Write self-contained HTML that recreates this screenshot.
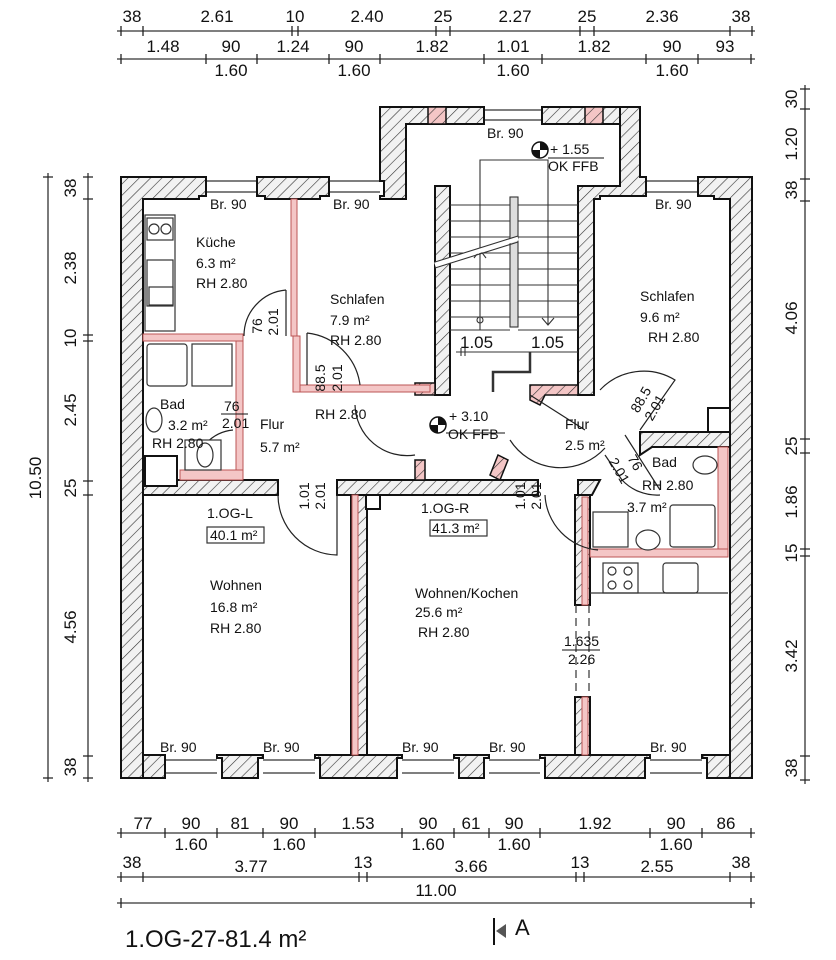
<!DOCTYPE html>
<html><head><meta charset="utf-8"><style>
html,body{margin:0;padding:0;background:#fff}
svg{display:block}
text{font-family:"Liberation Sans",sans-serif;fill:#111}
.d{font-size:17px}
.r{font-size:14px}
</style></head><body>
<svg width="836" height="960" viewBox="0 0 836 960" xmlns="http://www.w3.org/2000/svg">
<defs>
<pattern id="h" patternUnits="userSpaceOnUse" width="8" height="8" patternTransform="rotate(45)">
<rect width="8" height="8" fill="#f2f2f2"/><line x1="0" y1="0" x2="0" y2="8" stroke="#333" stroke-width="1.2"/></pattern>
<pattern id="p" patternUnits="userSpaceOnUse" width="8" height="8" patternTransform="rotate(45)">
<rect width="8" height="8" fill="#f4c6c6"/><line x1="0" y1="0" x2="0" y2="8" stroke="#333" stroke-width="1.2"/></pattern>
</defs>

<g stroke="#333" stroke-width="1.3" fill="none">
<line x1="117" y1="31" x2="755" y2="31"/>
<line x1="117" y1="59" x2="755" y2="59"/>
<line x1="117" y1="833" x2="755" y2="833"/>
<line x1="117" y1="877" x2="755" y2="877"/>
<line x1="117" y1="903" x2="755" y2="903"/>
<line x1="48" y1="173" x2="48" y2="782"/>
<line x1="88" y1="173" x2="88" y2="782"/>
<line x1="805" y1="85" x2="805" y2="784"/>
</g>
<g stroke="#222" stroke-width="1.3">
<path d="M121 26v10M143 26v10M292 26v10M298 26v10M436 26v10M450 26v10M580 26v10M594 26v10M730 26v10M752 26v10"/>
<path d="M121 54v10M206 54v10M257 54v10M329 54v10M380 54v10M484 54v10M542 54v10M646 54v10M698 54v10M751 54v10"/>
<path d="M121 828v10M165 828v10M217 828v10M263 828v10M315 828v10M402 828v10M454 828v10M489 828v10M540 828v10M650 828v10M702 828v10M751 828v10"/>
<path d="M121 872v10M143 872v10M359 872v10M367 872v10M576 872v10M584 872v10M730 872v10M751 872v10"/>
<path d="M121 898v10M751 898v10"/>
<path d="M43 177h10M43 778h10"/>
<path d="M83 177h10M83 199h10M83 335h10M83 341h10M83 481h10M83 495h10M83 756h10M83 778h10"/>
<path d="M800 89h10M800 109h10M800 179h10M800 201h10M800 439h10M800 453h10M800 549h10M800 556h10M800 756h10M800 780h10"/>
</g>
<g class="d" text-anchor="middle">
<text x="132" y="22">38</text><text x="217" y="22">2.61</text><text x="295" y="22">10</text><text x="367" y="22">2.40</text><text x="443" y="22">25</text><text x="515" y="22">2.27</text><text x="587" y="22">25</text><text x="662" y="22">2.36</text><text x="741" y="22">38</text>
<text x="163" y="52">1.48</text><text x="231" y="52">90</text><text x="231" y="76">1.60</text><text x="293" y="52">1.24</text><text x="354" y="52">90</text><text x="354" y="76">1.60</text><text x="432" y="52">1.82</text><text x="513" y="52">1.01</text><text x="513" y="76">1.60</text><text x="594" y="52">1.82</text><text x="672" y="52">90</text><text x="672" y="76">1.60</text><text x="725" y="52">93</text>
<text x="143" y="829">77</text><text x="191" y="829">90</text><text x="191" y="850">1.60</text><text x="240" y="829">81</text><text x="289" y="829">90</text><text x="289" y="850">1.60</text><text x="358" y="829">1.53</text><text x="428" y="829">90</text><text x="428" y="850">1.60</text><text x="471" y="829">61</text><text x="514" y="829">90</text><text x="514" y="850">1.60</text><text x="595" y="829">1.92</text><text x="676" y="829">90</text><text x="676" y="850">1.60</text><text x="726" y="829">86</text>
<text x="132" y="868">38</text><text x="251" y="872">3.77</text><text x="363" y="868">13</text><text x="471" y="872">3.66</text><text x="580" y="868">13</text><text x="657" y="872">2.55</text><text x="741" y="868">38</text>
<text x="436" y="896">11.00</text>
</g>
<g class="d" text-anchor="middle">
<text transform="translate(41,478) rotate(-90)">10.50</text>
<text transform="translate(76,188) rotate(-90)">38</text>
<text transform="translate(76,268) rotate(-90)">2.38</text>
<text transform="translate(76,338) rotate(-90)">10</text>
<text transform="translate(76,410) rotate(-90)">2.45</text>
<text transform="translate(76,488) rotate(-90)">25</text>
<text transform="translate(76,627) rotate(-90)">4.56</text>
<text transform="translate(76,767) rotate(-90)">38</text>
<text transform="translate(797,99) rotate(-90)">30</text>
<text transform="translate(797,144) rotate(-90)">1.20</text>
<text transform="translate(797,190) rotate(-90)">38</text>
<text transform="translate(797,318) rotate(-90)">4.06</text>
<text transform="translate(797,446) rotate(-90)">25</text>
<text transform="translate(797,502) rotate(-90)">1.86</text>
<text transform="translate(797,553) rotate(-90)">15</text>
<text transform="translate(797,656) rotate(-90)">3.42</text>
<text transform="translate(797,768) rotate(-90)">38</text>
</g>

<g stroke="#333" stroke-width="1.2">
<path d="M206 181h51M206 192h51M329 181h51M329 192h51M484 110h58M484 120h58M646 181h52M646 192h52"/>
<path d="M165 760h52M165 773h52M263 760h52M263 773h52M402 760h52M402 773h52M489 760h51M489 773h51M650 760h52M650 773h52"/>
</g>

<g fill="url(#h)" stroke="#111" stroke-width="2">
<path d="M121 177H206V196H199V199H143V778H121Z"/>
<path d="M257 177H329V196H320V199H265V196H257Z"/>
<path d="M380 107H484V124H406V199H380V196H384V181H380Z"/>
<path d="M542 107H620V124H542Z"/>
<path d="M620 107H640V177H646V196H600V199H594V395H578V186H620V124Z"/>
<path d="M698 177H752V778H730V199H714V196H698Z"/>
<rect x="143" y="755" width="22" height="23"/>
<path d="M217 755H263V758H258V778H222V758H217Z"/>
<path d="M315 755H402V758H397V778H320V758H315Z"/>
<path d="M454 755H489V758H484V778H459V758H454Z"/>
<path d="M540 755H650V758H645V778H545V758H540Z"/>
<path d="M702 755H730V778H707V758H702Z"/>
<path d="M435 186H450V395H435Z"/>
<path d="M143 480H278V495H143Z"/>
<path d="M337 480H538V495H337Z"/>
<path d="M578 480H600L592 495H578Z"/>
<path d="M351 495H367V755H351Z"/>
<path d="M575 495H590V605H575Z"/>
<path d="M575 697H590V755H575Z"/>
<path d="M640 432H730V447H652L640 455Z"/>
</g>
<g fill="url(#p)" stroke="#111" stroke-width="1.5">
<rect x="428" y="107" width="18" height="17"/>
<rect x="585" y="107" width="18" height="17"/>
<rect x="415" y="383" width="20" height="12"/>
<rect x="415" y="460" width="10" height="20"/>
<path d="M530 385H578V395H545L540 405L530 400Z"/>
<path d="M490 475L498 455L508 460L500 480Z"/>
</g>
<g fill="#f4c6c6" stroke="#b55" stroke-width="1">
<rect x="291" y="199" width="6" height="137"/>
<rect x="293" y="336" width="7" height="56"/>
<rect x="300" y="385" width="130" height="7"/>
<rect x="143" y="334" width="100" height="7"/>
<rect x="236" y="341" width="7" height="130"/>
<rect x="180" y="470" width="63" height="10"/>
<rect x="352" y="495" width="6" height="260"/>
<rect x="582" y="497" width="6" height="108"/>
<rect x="582" y="697" width="6" height="58"/>
<rect x="718" y="447" width="10" height="108"/>
<rect x="590" y="549" width="138" height="8"/>
</g>
<g fill="#fff" stroke="#111" stroke-width="2">
<rect x="145" y="456" width="32" height="30"/>
<rect x="708" y="408" width="22" height="24"/>
<rect x="366" y="495" width="14" height="14"/>
</g>
<g stroke="#333" stroke-width="1.2" stroke-dasharray="8 5">
<path d="M576 605V697M589 605V697"/>
</g>

<g stroke="#333" stroke-width="1.1" fill="none">
<path d="M450 205H578M450 221H578M450 237H578M450 253H578M450 269H578M450 285H578M450 301H578M450 317H578M450 330H510M518 330H578"/>
<rect x="510" y="197" width="8" height="130" fill="#ddd"/>
<path d="M480 330V160H548V325"/>
<path d="M474 258L480 250L486 258M542 318L548 325L554 318"/>
<circle cx="480" cy="320" r="3"/>
<path d="M435 265L518 238" stroke-width="5" stroke="#fff"/>
<path d="M435 262L518 236M435 268L518 242"/>
<path d="M456 352H578M461 348v8M465 348v8"/>
<path d="M530 352v20h-37v20" stroke-width="2.5"/>
</g>
<g>
<circle cx="540" cy="150" r="8" fill="#fff" stroke="#111" stroke-width="1.5"/>
<path d="M540 142A8 8 0 0 1 548 150H540ZM540 158A8 8 0 0 1 532 150H540Z" fill="#111"/>
<path d="M548 158H604" stroke="#111"/>
<circle cx="438" cy="425" r="8" fill="#fff" stroke="#111" stroke-width="1.5"/>
<path d="M438 417A8 8 0 0 1 446 425H438ZM438 433A8 8 0 0 1 430 425H438Z" fill="#111"/>
<path d="M446 433H505" stroke="#111"/>
</g>

<g stroke="#222" stroke-width="1.2" fill="none">
<path d="M286 290A46 46 0 0 0 244 336"/><path d="M286 290V336"/>
<path d="M307 333A60 60 0 0 1 360 385"/><path d="M307 333V385"/>
<path d="M195 470A42 42 0 0 1 233 430"/>
<path d="M355 405A52 52 0 0 0 415 455"/>
<path d="M278 495A60 60 0 0 0 337 555V495"/>
<path d="M545 495A58 58 0 0 0 598 550"/>
<path d="M530 395L585 430"/>
<path d="M510 440A60 60 0 0 0 605 448"/>
<path d="M600 390A60 60 0 0 1 675 380L640 430"/>
<path d="M605 455L622 480A48 48 0 0 0 660 495"/>
<path d="M625 435L660 490"/>
</g>

<g stroke="#333" stroke-width="1.2" fill="#fff">
<rect x="145" y="215" width="30" height="116"/>
<rect x="147" y="218" width="26" height="22"/><circle cx="154" cy="229" r="5"/><circle cx="166" cy="229" r="5"/>
<rect x="147" y="260" width="26" height="46"/>
<rect x="149" y="287" width="24" height="18"/>
<rect x="147" y="344" width="40" height="42" rx="3"/>
<rect x="192" y="344" width="40" height="42"/>
<ellipse cx="154" cy="420" rx="8" ry="12"/>
<rect x="185" y="440" width="36" height="30"/>
<ellipse cx="205" cy="455" rx="8" ry="12"/>
<rect x="593" y="512" width="35" height="35"/>
<ellipse cx="648" cy="540" rx="12" ry="10"/>
<rect x="670" y="505" width="45" height="42" rx="3"/>
<ellipse cx="705" cy="465" rx="12" ry="9"/>
<rect x="603" y="563" width="35" height="30"/>
<circle cx="612" cy="571" r="4"/><circle cx="628" cy="571" r="4"/><circle cx="612" cy="585" r="4"/><circle cx="628" cy="585" r="4"/>
<rect x="663" y="563" width="35" height="30" rx="3"/>
<path d="M590 593H728" fill="none"/>
<rect x="207" y="527" width="57" height="16" fill="#fff"/>
<rect x="430" y="520" width="57" height="16" fill="#fff"/>
</g>

<g class="r">
<text x="210" y="209">Br. 90</text><text x="333" y="209">Br. 90</text><text x="487" y="138">Br. 90</text><text x="655" y="209">Br. 90</text>
<text x="196" y="247">Küche</text><text x="196" y="268">6.3 m²</text><text x="196" y="288">RH 2.80</text>
<text x="330" y="304">Schlafen</text><text x="330" y="325">7.9 m²</text><text x="330" y="345">RH 2.80</text>
<text x="640" y="301">Schlafen</text><text x="640" y="322">9.6 m²</text><text x="648" y="342">RH 2.80</text>
<text x="160" y="409">Bad</text><text x="168" y="430">3.2 m²</text><text x="152" y="448">RH 2.80</text>
<text x="260" y="429">Flur</text><text x="260" y="452">5.7 m²</text>
<text x="315" y="419">RH 2.80</text>
<text x="565" y="429">Flur</text><text x="565" y="450">2.5 m²</text>
<text x="652" y="467">Bad</text><text x="642" y="490">RH 2.80</text><text x="627" y="512">3.7 m²</text>
<text x="207" y="518">1.OG-L</text><text x="210" y="540">40.1 m²</text>
<text x="421" y="513">1.OG-R</text><text x="432" y="533">41.3 m²</text>
<text x="210" y="590">Wohnen</text><text x="210" y="612">16.8 m²</text><text x="210" y="633">RH 2.80</text>
<text x="415" y="598">Wohnen/Kochen</text><text x="415" y="617">25.6 m²</text><text x="418" y="637">RH 2.80</text>
<text x="160" y="752">Br. 90</text><text x="263" y="752">Br. 90</text><text x="402" y="752">Br. 90</text><text x="489" y="752">Br. 90</text><text x="650" y="752">Br. 90</text>
<text x="550" y="154">+ 1.55</text><text x="548" y="171">OK FFB</text>
<text x="449" y="421">+ 3.10</text><text x="448" y="439">OK FFB</text>
<text x="460" y="348" class="d">1.05</text><text x="531" y="348" class="d">1.05</text>
<text x="564" y="646">1.635</text><text x="568" y="664">2.26</text>
<text x="224" y="411">76</text><text x="222" y="428">2.01</text>
</g>
<path d="M221 414H248M562 650H600" stroke="#111"/>
<g class="r" text-anchor="middle">
<text transform="translate(262,326) rotate(-90)">76</text>
<text transform="translate(278,322) rotate(-90)">2.01</text>
<text transform="translate(325,378) rotate(-90)">88.5</text>
<text transform="translate(342,378) rotate(-90)">2.01</text>
<text transform="translate(309,496) rotate(-90)">1.01</text>
<text transform="translate(325,496) rotate(-90)">2.01</text>
<text transform="translate(525,496) rotate(-90)">1.01</text>
<text transform="translate(541,496) rotate(-90)">2.01</text>
<text transform="translate(645,402) rotate(-60)">88.5</text>
<text transform="translate(659,410) rotate(-60)">2.01</text>
<text transform="translate(631,465) rotate(60)">76</text>
<text transform="translate(615,473) rotate(60)">2.01</text>
</g>

<text x="125" y="947" style="font-size:24px">1.OG-27-81.4 m²</text>
<path d="M494 918V945" stroke="#111" stroke-width="2"/>
<path d="M496 931L506 924V938Z" fill="#555"/>
<text x="515" y="935" style="font-size:22px">A</text>
</svg>
</body></html>
